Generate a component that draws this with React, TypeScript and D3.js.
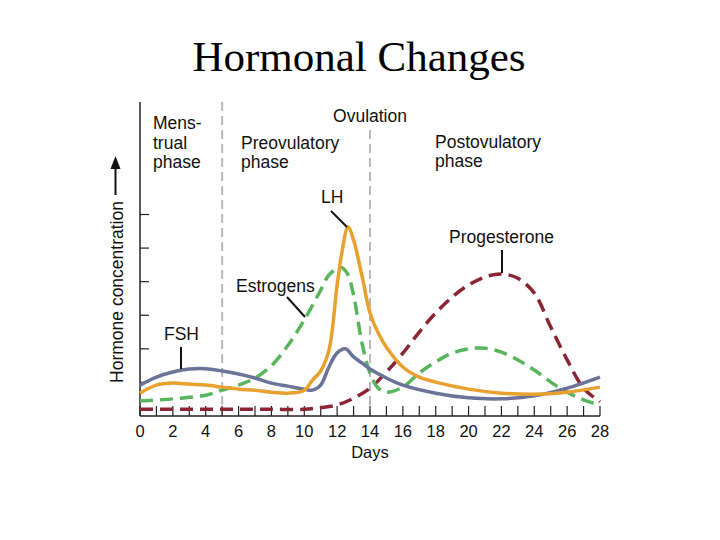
import React from "react";
import * as d3 from "d3";

// days and hormone levels (arbitrary units)
const fshDays = [0, 1, 2, 3, 4, 5, 6, 7, 8, 9, 10, 10.5, 11, 11.5, 12, 12.5, 13, 13.5, 14, 15, 16, 18, 20, 22, 24, 26, 28];
const fshValues = [0.92, 1.16, 1.31, 1.4, 1.41, 1.34, 1.25, 1.13, 0.98, 0.89, 0.8, 0.77, 0.92, 1.46, 1.88, 2.0, 1.76, 1.58, 1.4, 1.13, 0.92, 0.68, 0.54, 0.51, 0.6, 0.83, 1.16];

const lhDays = [0, 1, 2, 3, 4, 5, 6, 7, 8, 9, 10, 10.5, 11, 11.5, 12, 12.3, 12.66, 13, 13.5, 14, 14.5, 15, 16, 17, 18, 20, 22, 24, 26, 28];
const lhValues = [0.68, 0.92, 0.98, 0.95, 0.92, 0.86, 0.8, 0.77, 0.71, 0.68, 0.77, 1.07, 1.34, 1.96, 3.9, 4.9, 5.63, 5.24, 4.2, 3.07, 2.47, 2.05, 1.46, 1.16, 1.01, 0.8, 0.68, 0.65, 0.71, 0.86];

const estrogenDays = [0, 2, 4, 5, 6, 7, 8, 9, 10, 11, 11.5, 12.2, 12.6, 13, 13.5, 14, 14.5, 15, 16, 17, 18, 19, 20, 21, 22, 23, 24, 25, 26, 27, 28];
const estrogenValues = [0.45, 0.51, 0.62, 0.77, 0.92, 1.13, 1.5, 2.1, 2.86, 3.75, 4.2, 4.43, 4.26, 3.6, 2.2, 1.28, 0.83, 0.71, 0.86, 1.28, 1.61, 1.87, 2.0, 2.02, 1.9, 1.67, 1.37, 1.01, 0.71, 0.48, 0.33];

const progesteroneDays = [0, 2, 4, 6, 8, 10, 11, 12, 13, 14, 15, 16, 17, 18, 19, 20, 21, 22, 23, 24, 25, 26, 27, 28];
const progesteroneValues = [0.2, 0.2, 0.2, 0.2, 0.2, 0.2, 0.25, 0.33, 0.53, 0.83, 1.31, 1.87, 2.5, 3.07, 3.54, 3.9, 4.14, 4.23, 4.1, 3.66, 2.65, 1.67, 0.83, 0.42];

const dayTicks = d3.range(0, 29);
const dayLabels = d3.range(0, 29, 2);
const levelTicks = [1, 2, 3, 4, 5, 6];
const phaseLines = [5, 14];

const sans = "'Liberation Sans', Arial, sans-serif";

export default function App() {
  const x = d3.scaleLinear().domain([0, 28]).range([140, 600]);
  const y = d3.scaleLinear().domain([0, 9.35]).range([416, 102]);

  const line = d3
    .line<[number, number]>()
    .x((d) => x(d[0]))
    .y((d) => y(d[1]))
    .curve(d3.curveCatmullRom.alpha(0.5));

  const zip = (a: number[], b: number[]) => a.map((d, i) => [d, b[i]] as [number, number]);

  return (
    <svg
      width={720}
      height={540}
      style={{ position: "absolute", left: 0, top: 0, background: "#fff" }}
    >
      <text x={359} y={71} textAnchor="middle" fontFamily="'Liberation Serif', 'Times New Roman', serif" fontSize={43}>
        Hormonal Changes
      </text>

      {/* phase dividers */}
      {phaseLines.map((d, i) => (
        <line
          key={d}
          x1={x(d)}
          x2={x(d)}
          y1={i === 0 ? 102 : 130}
          y2={416}
          stroke="#b8b8b8"
          strokeWidth={2}
          strokeDasharray="9 5"
        />
      ))}

      {/* axes */}
      <line x1={x(0)} x2={x(0)} y1={102} y2={416} stroke="#222" strokeWidth={1.5} />
      <line x1={x(0)} x2={x(28)} y1={416} y2={416} stroke="#222" strokeWidth={1.5} />
      {levelTicks.map((t) => (
        <line key={t} x1={x(0)} x2={x(0) + 9} y1={y(t)} y2={y(t)} stroke="#222" strokeWidth={1.2} />
      ))}
      {dayTicks.map((t) => (
        <line key={t} x1={x(t)} x2={x(t)} y1={416} y2={406} stroke="#222" strokeWidth={1.2} />
      ))}
      {dayLabels.map((t) => (
        <text key={t} x={x(t)} y={437} textAnchor="middle" fontFamily={sans} fontSize={16.5} fill="#111">
          {t}
        </text>
      ))}
      <text x={x(14)} y={458} textAnchor="middle" fontFamily={sans} fontSize={16.5} fill="#111">
        Days
      </text>

      {/* y label with arrow */}
      <text
        transform="translate(123,292) rotate(-90)"
        textAnchor="middle"
        fontFamily={sans}
        fontSize={17.5}
        fill="#111"
      >
        Hormone concentration
      </text>
      <line x1={115.5} x2={115.5} y1={195} y2={165} stroke="#111" strokeWidth={2} />
      <path d="M115.5,156 L110.5,169 L120.5,169 Z" fill="#111" />

      {/* curves */}
      <path d={line(zip(progesteroneDays, progesteroneValues)) ?? ""} fill="none" stroke="#8c2533" strokeWidth={3.5} strokeDasharray="13 7" />
      <path d={line(zip(estrogenDays, estrogenValues)) ?? ""} fill="none" stroke="#58b55c" strokeWidth={3.5} strokeDasharray="13 7" />
      <path d={line(zip(fshDays, fshValues)) ?? ""} fill="none" stroke="#6b7398" strokeWidth={3.5} />
      <path d={line(zip(lhDays, lhValues)) ?? ""} fill="none" stroke="#e8a02f" strokeWidth={3.5} />

      {/* phase labels */}
      <g fontFamily={sans} fontSize={17.5} fill="#111">
        <text x={153} y={129}>Mens-</text>
        <text x={153} y={149}>trual</text>
        <text x={153} y={168}>phase</text>
        <text x={241} y={149}>Preovulatory</text>
        <text x={241} y={168}>phase</text>
        <text x={370} y={122} textAnchor="middle">Ovulation</text>
        <text x={435} y={148}>Postovulatory</text>
        <text x={435} y={167}>phase</text>
      </g>

      {/* curve labels */}
      <g fontFamily={sans} fontSize={17.5} fill="#111">
        <text x={321} y={203}>LH</text>
        <text x={236} y={292}>Estrogens</text>
        <text x={164} y={340}>FSH</text>
        <text x={449} y={243}>Progesterone</text>
      </g>
      <g stroke="#111" strokeWidth={2}>
        <line x1={331} y1={211} x2={347} y2={227} />
        <line x1={287} y1={297} x2={305} y2={317} />
        <line x1={181} y1={347} x2={181} y2={369} />
        <line x1={502} y1={250} x2={502} y2={273} />
      </g>
    </svg>
  );
}
